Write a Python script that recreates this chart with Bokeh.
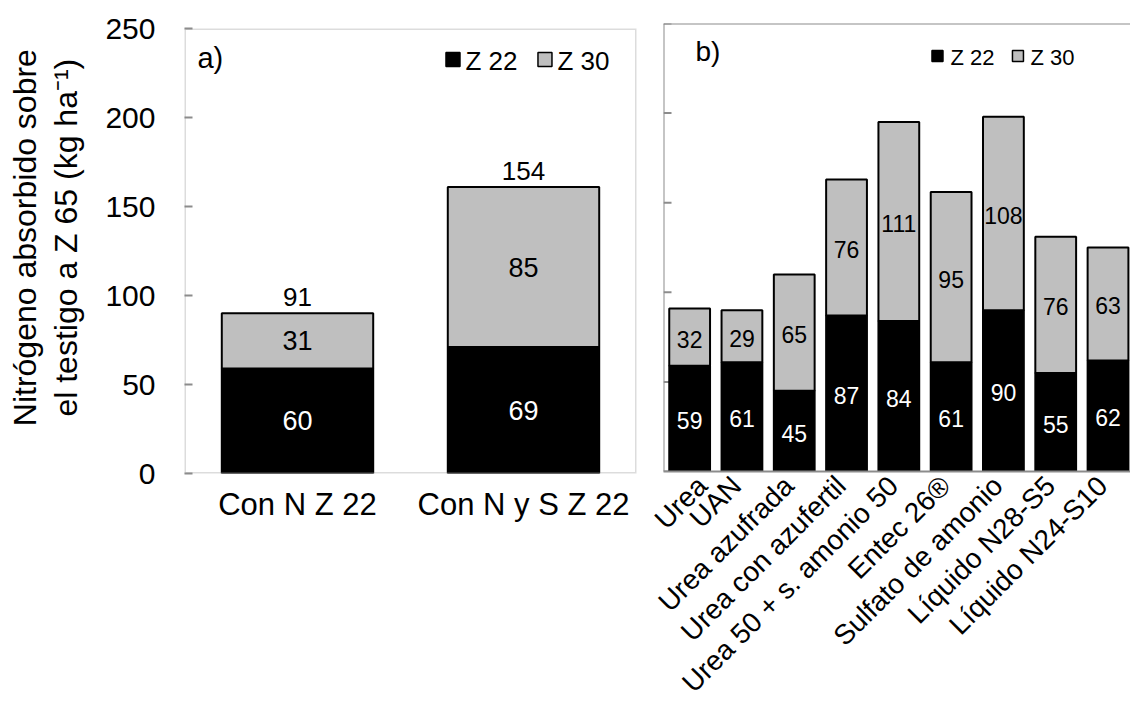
import math
from bokeh.plotting import figure
from bokeh.layouts import row
from bokeh.models import Range1d, FixedTicker, Span, ColumnDataSource, BoxAnnotation
from bokeh.embed import file_html
from bokeh.resources import INLINE
from bokeh.core.properties import value

FONT = "Liberation Sans"
GRAY_AX = "#8c8c8c"
FILL_Z30 = "#bfbfbf"
NB = "\u00a0"

# ---------------- data ----------------
# panel a)
a_cats = ["Con N Z 22", "Con N y S Z 22"]
a_z22 = [59, 71]            # bar heights as drawn
a_z30 = [31, 90]
a_lab_z22 = ["60", "69"]    # printed values
a_lab_z30 = ["31", "85"]
a_lab_tot = ["91", "154"]

# panel b)
b_cats = ["Urea", "UAN", "Urea azufrada", "Urea con azufertil",
          "Urea 50 + s. amonio 50", "Entec 26®", "Sulfato de amonio",
          "Líquido N28-S5", "Líquido N24-S10"]
b_z22 = [59, 61, 45, 87, 84, 61, 90, 55, 62]
b_z30 = [32, 29, 65, 76, 111, 95, 108, 76, 63]

y_ticks = [0, 50, 100, 150, 200, 250]
series_names = ["Z 22", "Z 30"]
y_title_lines = ["Nitrógeno absorbido sobre", "el testigo a Z 65 (kg ha\u207b\u00b9)"]


def base_fig(width, x_end, n, borders):
    p = figure(width=width, height=716, title=None,
               x_range=Range1d(-0.5, x_end), y_range=Range1d(0, 250),
               output_backend="svg", toolbar_location=None,
               min_border_left=borders[0], min_border_right=borders[1],
               min_border_top=borders[2], min_border_bottom=borders[3])
    p.frame_align = False
    p.xgrid.visible = False
    p.ygrid.visible = False
    p.outline_line_color = None
    p.background_fill_color = "white"
    p.border_fill_color = "white"
    p.xaxis.ticker = FixedTicker(ticks=list(range(n)))
    p.xaxis.major_tick_line_color = None
    p.xaxis.minor_tick_line_color = None
    p.xaxis.major_label_text_font = FONT
    p.xaxis.major_label_text_color = "black"
    p.xaxis.axis_label_standoff = 0
    return p


def draw_bars(p, z22, z30, width, lw):
    idx = list(range(len(z22)))
    tot = [a + b for a, b in zip(z22, z30)]
    p.vbar(x=idx, bottom=0, top=z22, width=width, fill_color="black",
           line_color="black", line_width=lw)
    p.vbar(x=idx, bottom=z22, top=tot, width=width, fill_color=FILL_Z30,
           line_color="black", line_width=lw)
    return idx, tot


# ---------------- panel a ----------------
p1 = base_fig(648, 1.5, len(a_cats), (184, 12, 28, 243))
p1.add_layout(BoxAnnotation(left=-0.5, right=1.5, bottom=0, top=250,
                            fill_color=None, line_color=GRAY_AX,
                            line_width=3))
p1.xaxis.axis_line_color = None
p1.xaxis.major_label_overrides = {i: c for i, c in enumerate(a_cats)}
p1.xaxis.major_label_text_font_size = "31px"
p1.xaxis.major_label_standoff = 7
p1.yaxis.ticker = FixedTicker(ticks=y_ticks)
p1.yaxis.axis_line_color = None
p1.yaxis.major_tick_in = 8
p1.yaxis.major_tick_out = 0
p1.yaxis.minor_tick_line_color = None
p1.yaxis.major_tick_line_color = GRAY_AX
p1.yaxis.major_tick_line_width = 2
p1.yaxis.major_label_text_font = FONT
p1.yaxis.major_label_text_color = "black"
p1.yaxis.major_label_text_font_size = "30px"
p1.yaxis.major_label_standoff = 29
p1.yaxis.axis_label = "\n".join(NB * 3 + s for s in y_title_lines)
p1.yaxis.axis_label_text_font = FONT
p1.yaxis.axis_label_text_font_size = "32px"
p1.yaxis.axis_label_text_font_style = "normal"
p1.yaxis.axis_label_text_color = "black"
p1.yaxis.axis_label_text_line_height = 1.15
p1.yaxis.axis_label_standoff = 18

idx_a, tot_a = draw_bars(p1, a_z22, a_z30, 0.67, 2)
src_a = ColumnDataSource(dict(
    x=idx_a,
    y1=[v / 2 for v in a_z22],
    y2=[a + b / 2 for a, b in zip(a_z22, a_z30)],
    yt=tot_a,
    t1=a_lab_z22, t2=a_lab_z30, tt=a_lab_tot))
p1.text(x="x", y="y1", text="t1", source=src_a, text_align="center",
        text_baseline="middle", text_font=value(FONT),
        text_font_size="27px", text_color="white")
p1.text(x="x", y="y2", text="t2", source=src_a, text_align="center",
        text_baseline="middle", text_font=value(FONT),
        text_font_size="27px", text_color="black")
p1.text(x="x", y="yt", text="tt", source=src_a, text_align="center",
        text_baseline="middle", y_offset=-16, text_font=value(FONT),
        text_font_size="26px", text_color="black")
# panel tag and legend
p1.text(x=[-0.4425], y=[233.7], text=["a)"], text_align="left",
        text_baseline="middle", text_font=value(FONT),
        text_font_size="29px", text_color="black")
p1.scatter(x=[0.688, 1.095], y=[232.6, 232.6], marker="square", size=14,
           fill_color=["black", FILL_Z30], line_color="black", line_width=1.5)
p1.text(x=[0.743, 1.150], y=[232.0, 232.0], text=series_names,
        text_align="left", text_baseline="middle", text_font=value(FONT),
        text_font_size="26px", text_color="black")

# ---------------- panel b ----------------
p2 = base_fig(482, 8.43, len(b_cats), (15, 0, 23, 245))
p2.yaxis.visible = False
p2.xaxis.axis_line_color = GRAY_AX
p2.xaxis.axis_line_width = 2
p2.xaxis.major_tick_in = 0
p2.xaxis.major_tick_out = 0
p2.xaxis.major_label_overrides = {i: c + NB for i, c in enumerate(b_cats)}
p2.xaxis.major_label_orientation = math.pi / 4
p2.xaxis.major_label_text_font_size = "28px"
p2.xaxis.major_label_text_line_height = 0.8
p2.xaxis.major_label_standoff = 4
p2.add_layout(Span(location=250, dimension="width", line_color=GRAY_AX,
                   line_width=2))
p2.add_layout(Span(location=-0.5, dimension="height", line_color=GRAY_AX,
                   line_width=2))
# inward ticks of the (unlabelled) value axis
tick_len = 8 / (467 / 8.93)
p2.segment(x0=[-0.5] * len(y_ticks), x1=[-0.5 + tick_len] * len(y_ticks),
           y0=y_ticks, y1=y_ticks, line_color=GRAY_AX, line_width=2)

idx_b, tot_b = draw_bars(p2, b_z22, b_z30, 0.78, 2)
src_b = ColumnDataSource(dict(
    x=idx_b,
    y1=[v / 2 for v in b_z22],
    y2=[a + b / 2 for a, b in zip(b_z22, b_z30)],
    t1=[str(v) for v in b_z22], t2=[str(v) for v in b_z30]))
p2.text(x="x", y="y1", text="t1", source=src_b, text_align="center",
        text_baseline="middle", y_offset=2, text_font=value(FONT),
        text_font_size="23px", text_color="white")
p2.text(x="x", y="y2", text="t2", source=src_b, text_align="center",
        text_baseline="middle", y_offset=2, text_font=value(FONT),
        text_font_size="23px", text_color="black")
p2.text(x=[0.112], y=[234.2], text=["b)"], text_align="left",
        text_baseline="middle", text_font=value(FONT),
        text_font_size="28px", text_color="black")
p2.scatter(x=[4.739, 6.278], y=[231.9, 231.9], marker="square", size=11,
           fill_color=["black", FILL_Z30], line_color="black", line_width=1.5)
p2.text(x=[4.988, 6.517], y=[230.8, 230.8], text=series_names,
        text_align="left", text_baseline="middle", text_font=value(FONT),
        text_font_size="22px", text_color="black")

layout = row(p1, p2, spacing=0)
open("out.html", "w").write(file_html(layout, INLINE))
